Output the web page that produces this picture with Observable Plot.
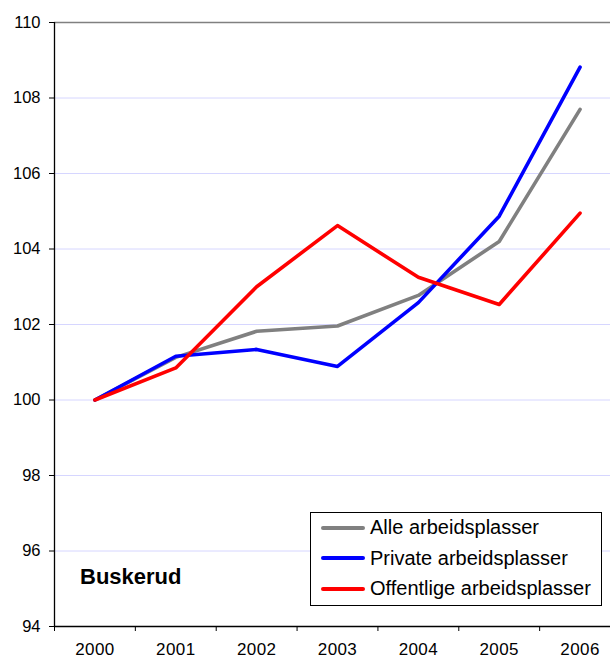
<!DOCTYPE html>
<html>
<head>
<meta charset="utf-8">
<script src="https://cdn.jsdelivr.net/npm/d3@7"></script>
<script src="https://cdn.jsdelivr.net/npm/@observablehq/plot@0.6"></script>
<style>
  html, body { margin: 0; padding: 0; width: 610px; height: 659px; overflow: hidden; background: #fff; }
  #wrap { position: relative; width: 620px; height: 659px; font-family: "Liberation Sans", Arial, sans-serif; }
  #title { position: absolute; left: 80px; top: 564px; font-size: 22px; font-weight: bold; color: #000; }
  #legend { position: absolute; left: 310px; top: 512px; width: 292px; height: 94px; border: 1px solid #000; background: #fff; box-sizing: border-box; }
  .row { position: absolute; left: 10px; display: flex; align-items: center; font-size: 20px; color: #000; white-space: nowrap; }
  .sw { width: 44px; height: 4px; margin-right: 5px; border-radius: 2px; }
</style>
</head>
<body>
<div id="wrap"></div>
<script>
const years = [2000, 2001, 2002, 2003, 2004, 2005, 2006];
const alle = [100, 101.13, 101.82, 101.96, 102.77, 104.2, 107.7];
const privat = [100, 101.16, 101.34, 100.89, 102.58, 104.87, 108.82];
const offentlig = [100, 100.85, 103.0, 104.62, 103.25, 102.53, 104.95];
const seriesNames = ["Alle arbeidsplasser", "Private arbeidsplasser", "Offentlige arbeidsplasser"];
const seriesColors = ["#808080", "#0000ff", "#ff0000"];
const yTicks = [94, 96, 98, 100, 102, 104, 106, 108, 110];
const gridTicks = [96, 98, 100, 102, 104, 106, 108];
const title = "Buskerud";

const seriesValues = [alle, privat, offentlig];
const data = [];
seriesValues.forEach((vals, i) => years.forEach((yr, j) => data.push({year: yr, value: vals[j], series: seriesNames[i]})));
const boundaries = d3.range(years.length + 1).map(i => years[0] - 0.5 + i);

const chart = Plot.plot({
  width: 620,
  height: 659,
  marginLeft: 54,
  marginRight: 0,
  marginTop: 22,
  marginBottom: 33,
  style: {fontFamily: "'Liberation Sans', Arial, sans-serif", background: "#fff", overflow: "visible"},
  x: {domain: [years[0] - 0.5, years[years.length - 1] + 0.5]},
  y: {domain: [94, 110]},
  marks: [
    Plot.ruleY(gridTicks, {stroke: "#d6d6ff", strokeWidth: 1}),
    Plot.ruleY([110], {stroke: "#808080", strokeWidth: 1.5}),
    Plot.axisY({ticks: yTicks, tickSize: 5, tickPadding: 9, fontSize: 16.5, tickFormat: d => String(d), label: null, stroke: "#000", color: "#000"}),
    Plot.axisX({ticks: years, tickSize: 0, tickPadding: 16, fontSize: 17, tickFormat: d => String(d), label: null, color: "#000"}),
    Plot.axisX({ticks: boundaries, tickSize: 5, tickFormat: () => "", label: null, stroke: "#000"}),
    ...seriesNames.map((name, i) => Plot.line(data.filter(d => d.series === name), {x: "year", y: "value", stroke: seriesColors[i], strokeWidth: 3.6, strokeLinejoin: "round", strokeLinecap: "round"})),
    Plot.ruleX([years[0] - 0.5], {stroke: "#000", strokeWidth: 1.3}),
    Plot.ruleY([94], {stroke: "#000", strokeWidth: 1.3})
  ]
});

const wrap = document.getElementById("wrap");
wrap.appendChild(chart);
chart.style.position = "absolute";
chart.style.left = "0px";
chart.style.top = "0px";
chart.querySelectorAll("g[aria-label='x-axis tick label'] text, g[aria-label='x-axis tick label']").forEach(t => t.setAttribute("letter-spacing", "0.4"));

const t = document.createElement("div");
t.id = "title";
t.textContent = title;
wrap.appendChild(t);

const lg = document.createElement("div");
lg.id = "legend";
seriesNames.forEach((name, i) => {
  const r = document.createElement("div");
  r.className = "row";
  r.style.top = (3 + i * 30.5) + "px";
  const sw = document.createElement("div");
  sw.className = "sw";
  sw.style.background = seriesColors[i];
  const tx = document.createElement("span");
  tx.textContent = name;
  r.appendChild(sw);
  r.appendChild(tx);
  lg.appendChild(r);
});
wrap.appendChild(lg);
</script>
</body>
</html>
